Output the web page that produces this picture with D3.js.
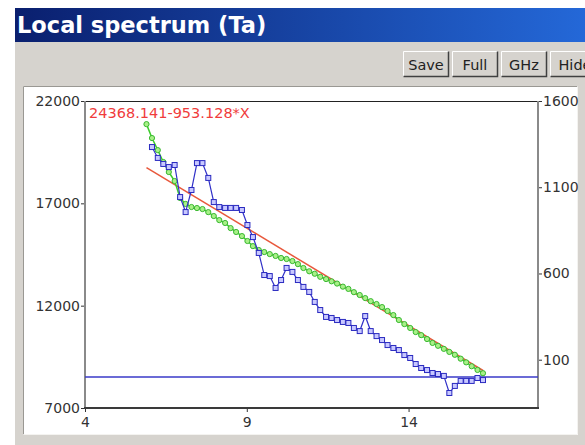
<!DOCTYPE html>
<html>
<head>
<meta charset="utf-8">
<script src="https://cdn.jsdelivr.net/npm/d3@7"></script>
<style>
  body { margin: 0; background: #fff; }
  text { font-family: "DejaVu Sans", sans-serif; }
</style>
</head>
<body>
<div id="chart"></div>
<script>
// Data
var freq = [5.90, 6.07, 6.25, 6.42, 6.59, 6.77, 6.94, 7.11, 7.29, 7.46,
  7.63, 7.81, 7.98, 8.15, 8.33, 8.50, 8.67, 8.85, 9.02, 9.19,
  9.37, 9.54, 9.71, 9.89, 10.06, 10.23, 10.41, 10.58, 10.75, 10.93,
  11.10, 11.27, 11.45, 11.62, 11.79, 11.97, 12.14, 12.31, 12.49, 12.66,
  12.83, 13.01, 13.18, 13.35, 13.53, 13.70, 13.87, 14.05, 14.22, 14.39,
  14.57, 14.74, 14.91, 15.09, 15.26, 15.43, 15.61, 15.78, 15.95, 16.13, 16.30]

// green series, left axis
var taValues = [20870, 20190, 19600, 19020, 18530, 18090, 17260, 16970, 16820, 16770,
  16720, 16570, 16380, 16180, 16040, 15790, 15600, 15400, 15160, 14910,
  14720, 14620, 14520, 14430, 14330, 14280, 14180, 14030, 13840, 13680,
  13560, 13410, 13300, 13190, 13080, 12930, 12820, 12660, 12520, 12370,
  12220, 12080, 11930, 11740, 11540, 11300, 11100, 10910, 10710, 10560,
  10370, 10180, 10040, 9890, 9740, 9600, 9410, 9230, 9040, 8860, 8700]

// blue series, right axis (no point at the first frequency)
var localValues = [null, 1333, 1270, 1235, 1217, 1229, 1043, 956, 1084, 1240,
  1240, 1154, 1014, 985, 980, 980, 980, 968, 881, 811,
  719, 591, 585, 516, 562, 632, 609, 562, 522, 493,
  435, 388, 348, 342, 330, 319, 313, 284, 266, 353,
  266, 237, 214, 185, 168, 156, 127, 110, 75, 52,
  40, 23, 17, 6, -93, -52, -23, -23, -23, -6, -18]

// linear fit shown in red
var fitA = 24368.141
var fitB = 953.128
var fitLabel = "24368.141-953.128*X"
var fitRange = [5.9, 16.3]
var zeroLine = 0

var xTicks = [4, 9, 14]
var leftTicks = [7000, 12000, 17000, 22000]
var rightTicks = [100, 600, 1100, 1600]
var buttons = ["Save", "Full", "GHz", "Hide"]
var title = "Local spectrum (Ta)"

var width = 585
var height = 445
var plot = { left: 85, right: 538, top: 101, bottom: 408 }

var svg = d3.select("#chart")
  .append("svg")
  .attr("width", width)
  .attr("height", height)

// window frame
var defs = svg.append("defs")
var grad = defs.append("linearGradient")
  .attr("id", "titlebar")
  .attr("x1", "0%").attr("x2", "100%")
grad.append("stop").attr("offset", "0%").attr("stop-color", "#0a1f6e")
grad.append("stop").attr("offset", "100%").attr("stop-color", "#2468d8")

svg.append("rect")
  .attr("x", 15).attr("y", 42)
  .attr("width", width - 15).attr("height", height - 42)
  .style("fill", "#d6d3ce")

svg.append("rect")
  .attr("x", 15).attr("y", 8)
  .attr("width", width - 15).attr("height", 34)
  .style("fill", "url(#titlebar)")

svg.append("text")
  .attr("x", 17).attr("y", 33)
  .text(title)
  .style("fill", "white")
  .style("font-weight", "bold")
  .style("font-size", "22.5px")

// buttons (the last one runs off the window edge, as in the original)
var buttonX = [403, 452, 501, 550]
var buttonW = [46, 46, 46, 50]
var btn = svg.selectAll(".btn")
  .data(buttons)
  .enter()
  .append("g")
  .attr("class", "btn")
  .attr("transform", (d, i) => `translate(${buttonX[i]},51)`)

btn.append("rect")
  .attr("width", (d, i) => buttonW[i])
  .attr("height", 26)
  .style("fill", "#d6d3ce")
btn.append("path")
  .attr("d", (d, i) => `M0.5,25.5V0.5H${buttonW[i] - 0.5}`)
  .style("fill", "none").style("stroke", "#fff")
btn.append("path")
  .attr("d", (d, i) => `M0.5,25.5H${buttonW[i] - 0.5}V0.5`)
  .style("fill", "none").style("stroke", "#404040").style("stroke-width", 1.5)
btn.append("text")
  .attr("x", (d, i) => buttonW[i] / 2)
  .attr("y", 19)
  .attr("text-anchor", "middle")
  .text(d => d)
  .style("font-size", "14.5px")
  .style("fill", "#222")

// sunken white panel
svg.append("rect")
  .attr("x", 23).attr("y", 86)
  .attr("width", 555).attr("height", 349)
  .style("fill", "white")
svg.append("path")
  .attr("d", "M23.5,434.5V86.5H577.5")
  .style("fill", "none").style("stroke", "#9a9893")
svg.append("path")
  .attr("d", "M23.5,434.5H577.5V86.5")
  .style("fill", "none").style("stroke", "#f4f3f0")

// scales
var xScale = d3.scaleLinear()
  .domain([4, 18])
  .range([plot.left, plot.right])

var yLeft = d3.scaleLinear()
  .domain([7000, 22000])
  .range([plot.bottom, plot.top])

var yRight = d3.scaleLinear()
  .domain([-180, 1600])
  .range([plot.bottom, plot.top])

var fmt = d3.format("d")

// axes
svg.append("g")
  .attr("transform", `translate(${plot.left},0)`)
  .call(d3.axisLeft(yLeft).tickValues(leftTicks).tickFormat(fmt).tickSize(4).tickPadding(1).tickSizeOuter(0))
svg.append("g")
  .attr("transform", `translate(${plot.right},0)`)
  .call(d3.axisRight(yRight).tickValues(rightTicks).tickFormat(fmt).tickSize(4).tickPadding(1).tickSizeOuter(0))
svg.append("g")
  .attr("transform", `translate(0,${plot.bottom})`)
  .call(d3.axisBottom(xScale).tickValues(xTicks).tickFormat(fmt).tickSize(4).tickPadding(5).tickSizeOuter(0))

svg.selectAll(".domain").remove()
svg.selectAll(".tick line").style("stroke", "#333")
svg.selectAll(".tick text")
  .style("font-family", "DejaVu Sans, sans-serif")
  .style("font-size", "14px")
  .style("fill", "#333")

// plot frame
svg.append("line")
  .attr("x1", plot.left).attr("x2", plot.right)
  .attr("y1", plot.top + 0.5).attr("y2", plot.top + 0.5)
  .style("stroke", "#222")
svg.append("line")
  .attr("x1", plot.left).attr("x2", plot.left)
  .attr("y1", plot.top).attr("y2", plot.bottom)
  .style("stroke", "#8a8a8a").style("stroke-width", 2)
svg.append("line")
  .attr("x1", plot.right).attr("x2", plot.right)
  .attr("y1", plot.top).attr("y2", plot.bottom)
  .style("stroke", "#8a8a8a").style("stroke-width", 2)
svg.append("line")
  .attr("x1", plot.left - 1).attr("x2", plot.right + 1)
  .attr("y1", plot.bottom).attr("y2", plot.bottom)
  .style("stroke", "#3a3a3a").style("stroke-width", 2)

// zero line of the right axis
svg.append("line")
  .attr("x1", plot.left).attr("x2", plot.right)
  .attr("y1", yRight(zeroLine)).attr("y2", yRight(zeroLine))
  .style("stroke", "#3a3ac8").style("stroke-width", 1.5)

// red fit line
svg.append("line")
  .attr("x1", xScale(fitRange[0])).attr("y1", yLeft(fitA - fitB * fitRange[0]))
  .attr("x2", xScale(fitRange[1])).attr("y2", yLeft(fitA - fitB * fitRange[1]))
  .style("stroke", "#e8583c").style("stroke-width", 1.5)

// green series
var greenLine = d3.line()
  .x((d, i) => xScale(freq[i]))
  .y(d => yLeft(d))
svg.append("path")
  .datum(taValues)
  .attr("d", greenLine)
  .style("fill", "none").style("stroke", "#3ccc2c").style("stroke-width", 1.5)
svg.selectAll(".gdot")
  .data(taValues)
  .enter()
  .append("circle")
  .attr("class", "gdot")
  .attr("cx", (d, i) => xScale(freq[i]))
  .attr("cy", d => yLeft(d))
  .attr("r", 2.6)
  .style("fill", "#a8f088").style("stroke", "#38b830").style("stroke-width", 1)

// blue series
var blueLine = d3.line()
  .defined(d => d !== null)
  .x((d, i) => xScale(freq[i]))
  .y(d => yRight(d))
svg.append("path")
  .datum(localValues)
  .attr("d", blueLine)
  .style("fill", "none").style("stroke", "#3030c8").style("stroke-width", 1.2)
svg.selectAll(".bdot")
  .data(localValues.map((d, i) => ({ x: freq[i], v: d })).filter(d => d.v !== null))
  .enter()
  .append("rect")
  .attr("class", "bdot")
  .attr("x", d => xScale(d.x) - 2.5)
  .attr("y", d => yRight(d.v) - 2.5)
  .attr("width", 5).attr("height", 5)
  .style("fill", "#c8c8ff").style("stroke", "#2a2ac0").style("stroke-width", 1)

// fit label
svg.append("text")
  .attr("x", 89).attr("y", 118)
  .text(fitLabel)
  .style("fill", "#f03c3c")
  .style("font-size", "14.5px")
</script>
</body>
</html>
